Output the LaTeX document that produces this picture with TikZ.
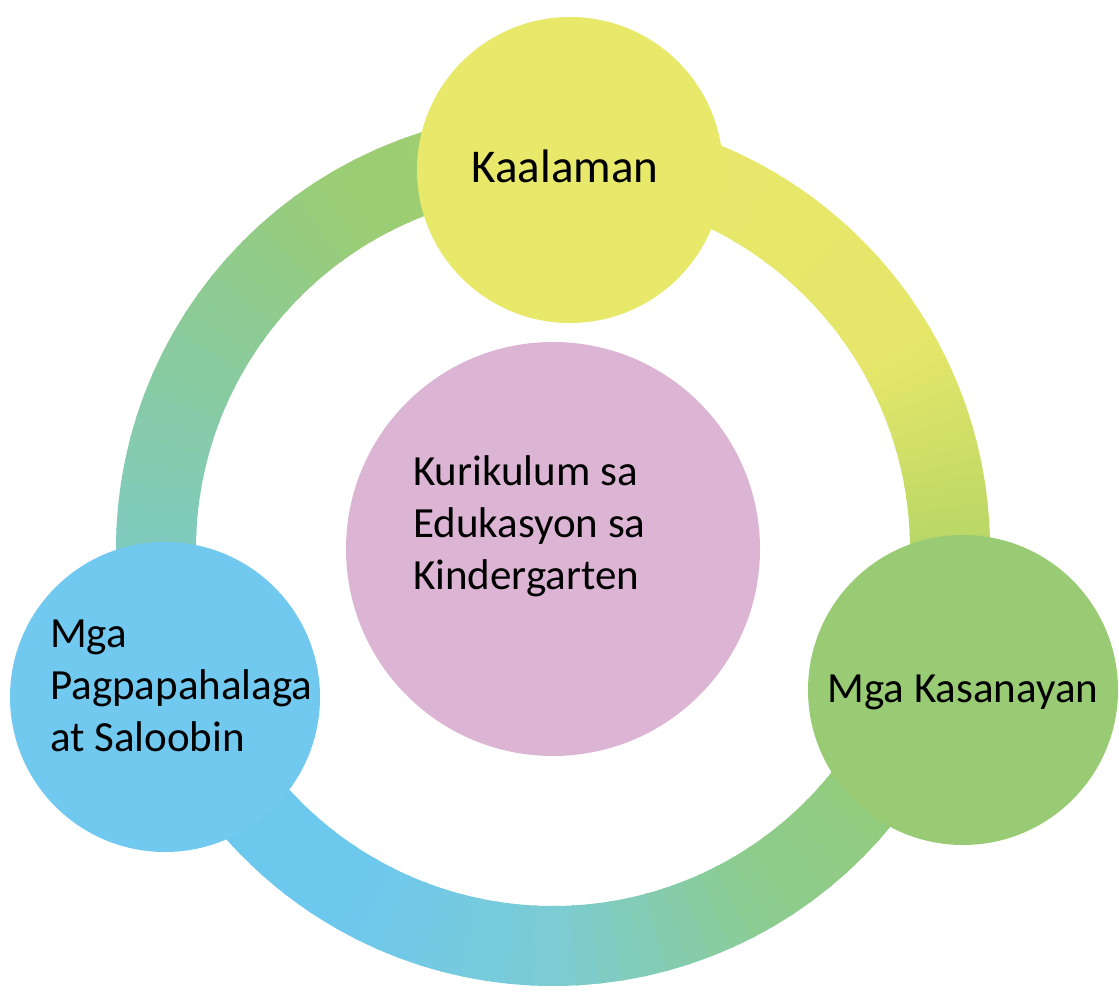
\documentclass[tikz,border=0pt]{standalone}
\usepackage{fontspec}
\setmainfont{Carlito}

\definecolor{kaalamanfill}{HTML}{E8E86B}
\definecolor{kasanayanfill}{HTML}{98CB73}
\definecolor{saloobinfill}{HTML}{72C9EF}
\definecolor{kurikulumfill}{HTML}{DCB5D5}
\definecolor{ringA}{HTML}{6EC9EE}
\definecolor{ringB}{HTML}{6DC8EE}
\definecolor{ringC}{HTML}{7CCCD4}
\definecolor{ringD}{HTML}{8CCC90}
\definecolor{ringE}{HTML}{96CC76}
\definecolor{ringF}{HTML}{A6D06A}
\definecolor{ringG}{HTML}{C8DC66}
\definecolor{ringH}{HTML}{E6E76A}
\definecolor{ringI}{HTML}{A2CF6E}
\definecolor{ringJ}{HTML}{9BCD74}
\definecolor{ringK}{HTML}{8ACB9C}
\definecolor{ringL}{HTML}{80CBC0}

\begin{document}
\begin{tikzpicture}[x=1pt, y=1pt,
    bubble/.style={circle, inner sep=0pt, draw=none},
    ring/.style={line width=80pt},
    bubbletext/.style={inner sep=0pt, font=\fontsize{43}{52}\selectfont, align=left}]
    \useasboundingbox (0,0) rectangle (1119,991);
    \coordinate (hub) at (553,442);
    \foreach \sa/\ea/\ca/\cb in {-160/-120/ringA/ringB, -120/-90/ringB/ringC, -90/-60/ringC/ringD,
        -60/-30/ringD/ringE, -30/-10/ringE/ringF, -10/10/ringF/ringG, 10/30/ringG/ringH,
        30/88/ringH/kaalamanfill, 88/120/ringI/ringJ, 120/150/ringJ/ringK, 150/180/ringK/ringL,
        180/200/ringL/ringA} {
        \foreach \i in {0,...,9} {
            \pgfmathsetmacro{\a}{\sa+(\ea-\sa)*\i/10}
            \pgfmathsetmacro{\e}{\a+(\ea-\sa)/10+0.5}
            \pgfmathtruncatemacro{\p}{95-10*\i}
            \draw [ring, color=\ca!\p!\cb] ([shift={(\a:397pt)}]hub) arc [start angle=\a, end angle=\e, radius=397pt];
        }
    }
    \node [bubble, fill=kurikulumfill, minimum size=414pt] (kurikulum) at (hub) {};
    \node [bubble, fill=kaalamanfill, minimum size=306pt] (kaalaman) at (570,821) {};
    \node [bubble, fill=kasanayanfill, minimum size=310pt] (kasanayan) at (963,301) {};
    \node [bubble, fill=saloobinfill, minimum size=310pt] (saloobin) at (165,294) {};
    \node [bubbletext, anchor=west] (kurikulum text) at (413,465) {Kurikulum sa\\Edukasyon sa\\Kindergarten};
    \node [bubbletext, anchor=base, font=\fontsize{47}{56}\selectfont] (kaalaman text) at (565,808) {Kaalaman};
    \node [bubbletext, anchor=base] (kasanayan text) at (963,288) {Mga Kasanayan};
    \node [bubbletext, anchor=west] (saloobin text) at (50,305.5) {Mga\\Pagpapahalaga\\at Saloobin};
\end{tikzpicture}
\end{document}
